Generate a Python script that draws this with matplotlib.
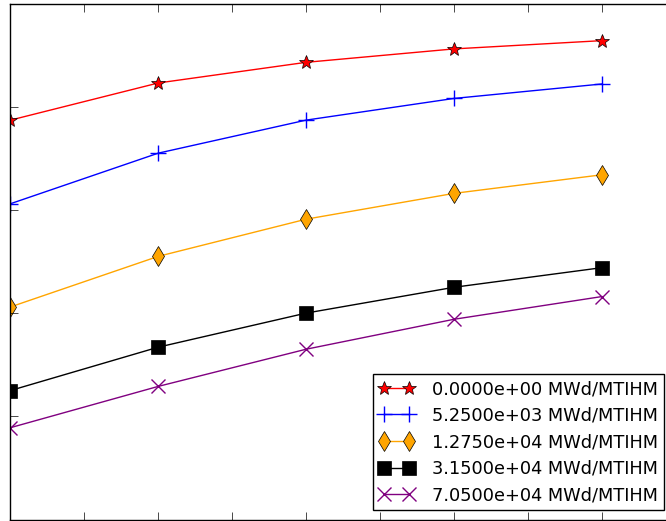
import matplotlib
matplotlib.use("Agg")
import matplotlib.pyplot as plt

# burnup step index (x) and values
steps = [0, 1, 2, 3, 4]
labels = ['0.0000e+00 MWd/MTIHM', '5.2500e+03 MWd/MTIHM', '1.2750e+04 MWd/MTIHM',
          '3.1500e+04 MWd/MTIHM', '7.0500e+04 MWd/MTIHM']
vals_0 = [3.87, 4.23, 4.43, 4.56, 4.64]
vals_5250 = [3.06, 3.55, 3.87, 4.08, 4.22]
vals_12750 = [2.06, 2.55, 2.91, 3.16, 3.34]
vals_31500 = [1.25, 1.67, 2.00, 2.25, 2.44]
vals_70500 = [0.89, 1.29, 1.65, 1.94, 2.16]

plt.style.use('classic')
fig = plt.figure(figsize=(6.66, 5.21), dpi=100)
fig.patch.set_facecolor('white')
# the picture is a crop: axes run past the right edge
ax = fig.add_axes([10.5 / 666, 1.5 / 521, 4.5 * 147.8 / 666, 516 / 521])

ax.plot(steps, vals_0, color='red', marker='*', markersize=10, markerfacecolor='red',
        markeredgecolor='black', lw=1, label=labels[0])
ax.plot(steps, vals_5250, color='blue', marker='+', markersize=11, mew=1,
        lw=1, label=labels[1])
ax.plot(steps, vals_12750, color='orange', marker='d', markersize=10, markerfacecolor='orange',
        markeredgecolor='black', lw=1, label=labels[2])
ax.plot(steps, vals_31500, color='black', marker='s', markersize=10, lw=1, label=labels[3])
ax.plot(steps, vals_70500, color='purple', marker='x', markersize=10, mew=1,
        lw=1, label=labels[4])

ax.set_xlim(0, 4.5)
ax.set_ylim(0, 5)
ax.set_xticks([0.5 * i for i in range(10)])
ax.set_yticks([0, 1, 2, 3, 4, 5])
ax.tick_params(labelbottom=False, labelleft=False, labeltop=False, labelright=False,
               direction='in', length=5.5)

ax.legend(loc='lower left', bbox_to_anchor=(373 / 666, 11 / 521),
          bbox_transform=fig.transFigure, numpoints=2, fontsize=12.8,
          labelspacing=0.48, borderpad=0.32, handletextpad=1.0,
          borderaxespad=0, fancybox=False)

fig.savefig('out.png', dpi=100)
